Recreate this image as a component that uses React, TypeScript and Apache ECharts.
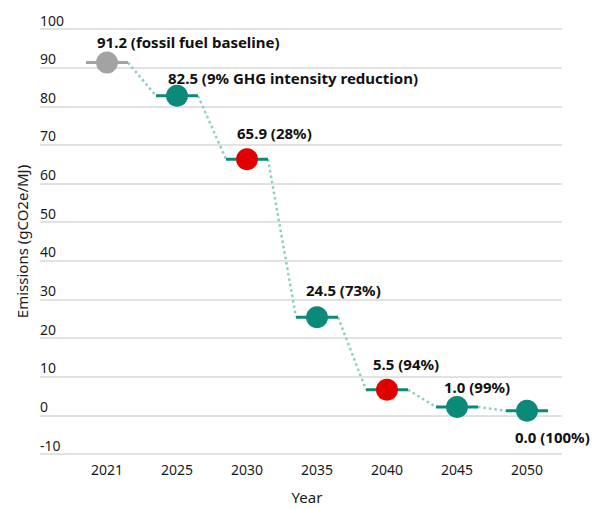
import React, { useEffect, useRef } from "react";
import * as echarts from "echarts";

const years = ["2021", "2025", "2030", "2035", "2040", "2045", "2050"];
const emissions = [91.2, 82.5, 65.9, 24.5, 5.5, 1.0, 0.0];
const notes = [
  "fossil fuel baseline",
  "9% GHG intensity reduction",
  "28%",
  "73%",
  "94%",
  "99%",
  "100%",
];
const yTicks = [-10, 0, 10, 20, 30, 40, 50, 60, 70, 80, 90, 100];

// styling (not data)
const TEAL = "#0b8a7a";
const RED = "#e00000";
const GRAY = "#a3a3a3";
const DOT = "#8ccdc4";
const pointColors = [GRAY, TEAL, RED, TEAL, RED, TEAL, TEAL];
const labelOffsets: [number, number][] = [
  [-10, -21],
  [-9, -18],
  [-10, -26],
  [-11, -27],
  [-14, -26],
  [-13, -20],
  [-12, 26],
];
const FONT = "Noto Sans";

export default function App() {
  const ref = useRef<HTMLDivElement>(null);
  useEffect(() => {
    if (!ref.current) return;
    const chart = echarts.init(ref.current, undefined, { renderer: "svg" });
    const top = 29;
    const bottom = 55;
    const yMin = yTicks[0];
    const yMax = yTicks[yTicks.length - 1];
    const option: any = {
      animation: false,
      textStyle: { fontFamily: FONT },
      grid: [
        { left: 40, right: 37, top, bottom },
        { left: 72, right: 37, top, bottom },
      ],
      xAxis: [
        { gridIndex: 0, type: "value", show: false, min: 0, max: 1 },
        {
          gridIndex: 1,
          type: "category",
          data: years,
          axisLine: { show: false },
          axisTick: { show: false },
          axisLabel: { color: "#1a1a1a", fontSize: 14, margin: 13, fontFamily: FONT },
          name: "Year",
          nameLocation: "middle",
          nameGap: 40,
          nameTextStyle: { color: "#1a1a1a", fontSize: 15, padding: [0, 20, 0, 0], fontFamily: FONT },
        },
      ],
      yAxis: [
        {
          gridIndex: 0,
          type: "value",
          min: yMin,
          max: yMax,
          interval: 10,
          axisLine: { show: false },
          axisTick: { show: false },
          splitLine: { show: true, lineStyle: { color: "#d9d9d9", width: 1.5 } },
          axisLabel: {
            inside: true,
            margin: 0,
            color: "#1a1a1a",
            fontSize: 14,
            verticalAlign: "bottom",
            align: "left",
            padding: [0, 0, 2, 0],
            fontFamily: FONT,
          },
          name: "Emissions (gCO2e/MJ)",
          nameLocation: "middle",
          nameGap: 11,
          nameTextStyle: { color: "#1a1a1a", fontSize: 15, fontFamily: FONT },
        },
        { gridIndex: 1, type: "value", min: yMin, max: yMax, show: false },
      ],
      series: [
        {
          type: "custom",
          xAxisIndex: 1,
          yAxisIndex: 1,
          z: 1,
          data: emissions.map((v, i) => [i, v]),
          renderItem: (params: any, api: any) => {
            const i = params.dataIndex;
            const p = api.coord([api.value(0), api.value(1)]);
            const half = api.size([1, 0])[0] * 0.3;
            const children: any[] = [];
            if (i < emissions.length - 1) {
              const q = api.coord([i + 1, emissions[i + 1]]);
              children.push({
                type: "line",
                shape: { x1: p[0] + half, y1: p[1], x2: q[0] - half, y2: q[1] },
                style: { stroke: DOT, lineWidth: 2.5, lineDash: [2.5, 3] },
              });
            }
            children.push({
              type: "line",
              shape: { x1: p[0] - half, y1: p[1], x2: p[0] + half, y2: p[1] },
              style: { stroke: i === 0 ? GRAY : TEAL, lineWidth: 3 },
            });
            return { type: "group", children };
          },
        },
        {
          type: "scatter",
          xAxisIndex: 1,
          yAxisIndex: 1,
          z: 3,
          symbolSize: 22,
          data: emissions.map((v, i) => ({
            value: [i, v],
            itemStyle: { color: pointColors[i], opacity: 1 },
            label: {
              show: true,
              position: "inside",
              align: "left",
              verticalAlign: "middle",
              offset: labelOffsets[i],
              formatter: `${v.toFixed(1)} (${notes[i]})`,
              color: "#111",
              fontWeight: "bold",
              fontSize: 15,
              fontFamily: FONT,
            },
          })),
        },
      ],
    };
    chart.setOption(option);
    return () => chart.dispose();
  }, []);
  return (
    <div
      ref={ref}
      style={{ position: "absolute", left: 0, top: 0, width: 599, height: 509, background: "#fff" }}
    />
  );
}
